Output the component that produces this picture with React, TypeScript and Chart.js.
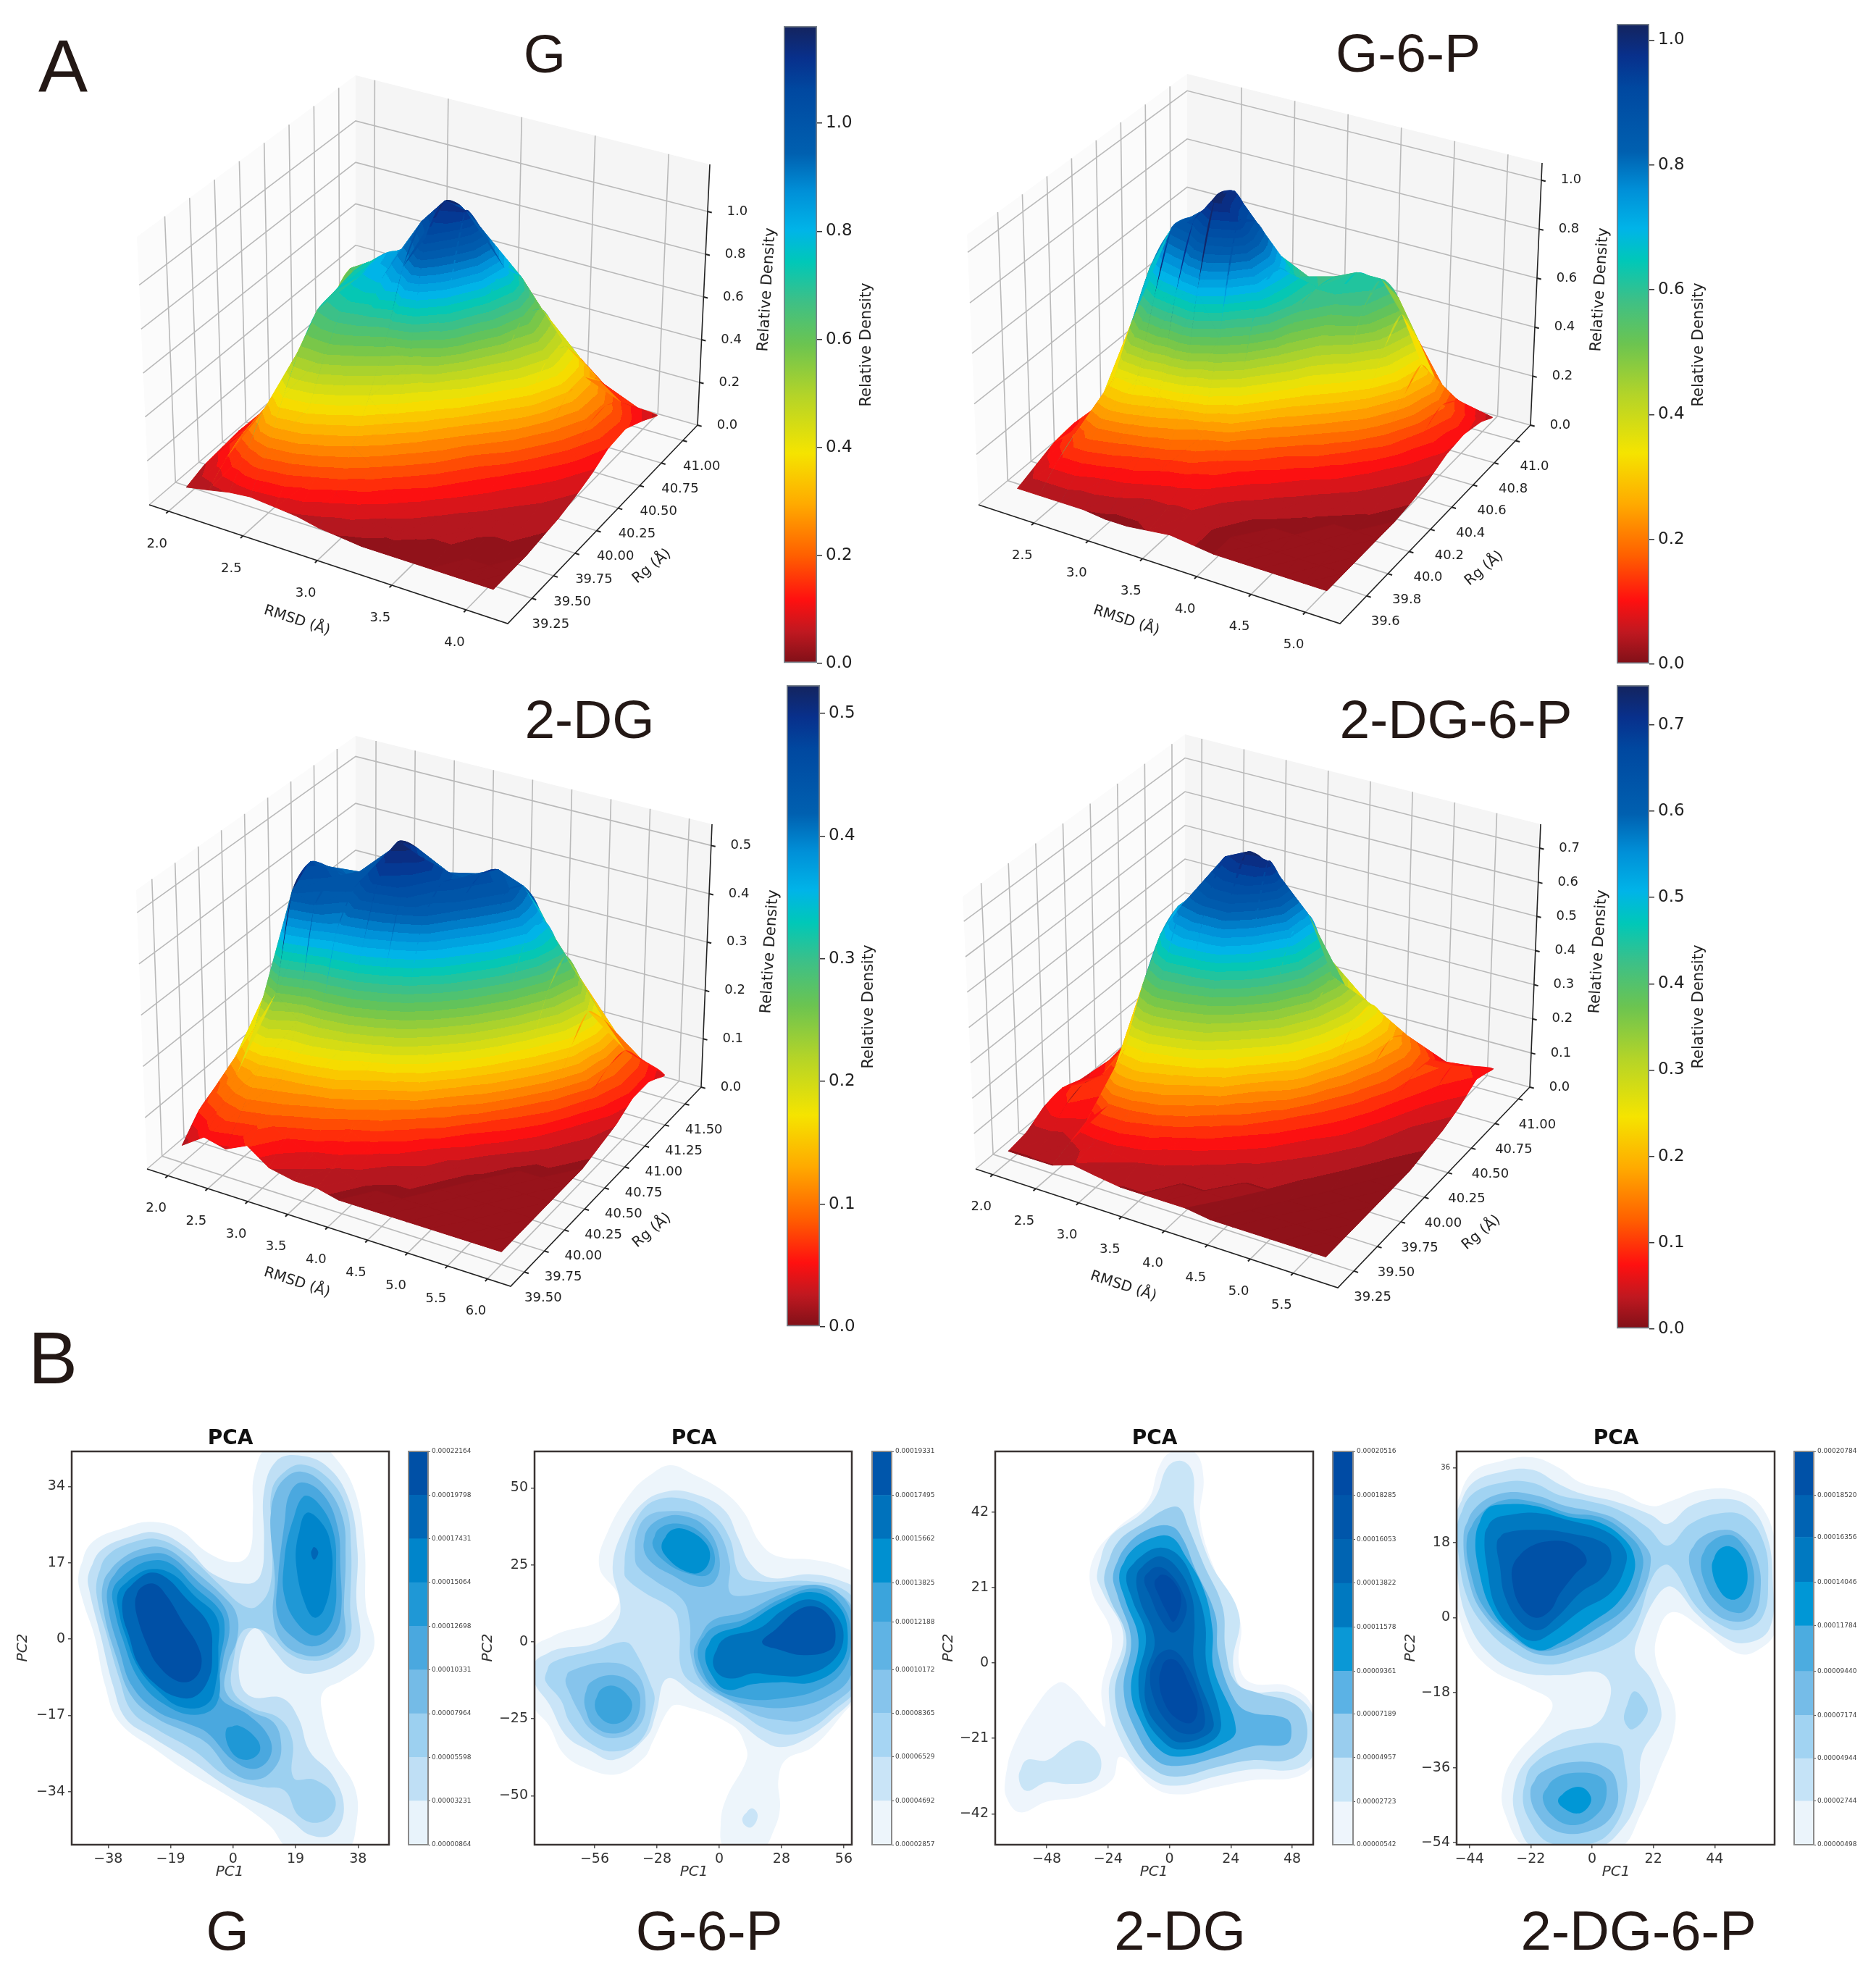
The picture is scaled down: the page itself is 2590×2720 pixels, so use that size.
import React, { useEffect, useRef } from 'react';
import { Chart, registerables } from 'chart.js';
Chart.register(...registerables);

// ---------- 3D surface data: Relative Density over RMSD (rows) and Rg (columns) ----------
const gRmsd = [1.99, 2.14, 2.28, 2.42, 2.59, 2.74, 2.88, 3.03, 3.17, 3.32, 3.46, 3.63, 3.77, 3.92, 4.06];
const gRg = [39.18, 39.37, 39.56, 39.74, 39.93, 40.11, 40.31, 40.49, 40.69, 40.87, 41.06];
const gZ = [
  [.03, .06, .07, .08, .07, .06, .08, .18, .18, .12, .05],
  [.05, .12, .17, .18, .19, .22, .30, .42, .38, .25, .10],
  [.07, .18, .30, .33, .34, .42, .55, .62, .55, .35, .14],
  [.08, .22, .40, .55, .66, .68, .70, .68, .56, .38, .16],
  [.07, .20, .38, .56, .70, .78, .80, .76, .62, .40, .16],
  [.06, .16, .32, .50, .68, .80, .86, .82, .68, .44, .18],
  [.04, .12, .26, .42, .62, .88, 1.02, .94, .74, .48, .19],
  [.03, .09, .19, .32, .52, 1.04, 1.14, 1.05, .80, .52, .20],
  [.02, .06, .13, .24, .40, .74, 1.12, .97, .76, .52, .18],
  [.02, .04, .09, .17, .28, .48, .72, .82, .70, .48, .16],
  [.02, .03, .06, .11, .19, .33, .52, .62, .58, .40, .14],
  [.02, .03, .04, .07, .12, .22, .36, .46, .44, .31, .11],
  [.02, .02, .03, .05, .08, .14, .24, .32, .32, .23, .08],
  [.02, .02, .03, .04, .06, .09, .15, .21, .22, .16, .06],
  [.02, .02, .02, .03, .04, .06, .09, .13, .14, .10, .05],
];
const g6pRmsd = [2.18, 2.38, 2.58, 2.79, 2.99, 3.19, 3.39, 3.59, 3.79, 3.99, 4.22, 4.42, 4.62, 4.82, 5.04];
const g6pRg = [39.51, 39.67, 39.83, 39.99, 40.14, 40.30, 40.46, 40.62, 40.78, 40.94, 41.05];
const g6pZ = [
  [.03, .06, .09, .10, .09, .08, .07, .09, .12, .10, .05],
  [.03, .10, .15, .15, .18, .26, .36, .42, .42, .28, .10],
  [.03, .10, .20, .34, .50, .66, .74, .72, .60, .38, .15],
  [.03, .08, .18, .36, .62, .85, .83, .75, .62, .42, .18],
  [.02, .07, .15, .32, .66, .90, .90, .78, .62, .45, .20],
  [.02, .05, .12, .27, .70, 1.02, .98, .79, .60, .46, .20],
  [.03, .05, .10, .21, .54, .94, .88, .70, .54, .44, .20],
  [.04, .05, .08, .15, .38, .68, .72, .62, .54, .46, .18],
  [.03, .03, .05, .10, .22, .45, .58, .60, .58, .50, .18],
  [.02, .02, .03, .07, .14, .30, .46, .60, .62, .52, .18],
  [.02, .02, .02, .04, .09, .20, .36, .56, .62, .48, .16],
  [.02, .02, .02, .03, .06, .13, .26, .42, .50, .33, .12],
  [.02, .02, .02, .02, .04, .08, .16, .26, .32, .17, .07],
  [.02, .02, .02, .02, .03, .05, .09, .14, .18, .13, .05],
  [.02, .02, .02, .02, .02, .03, .05, .08, .09, .07, .04],
];
const dgRmsd = [1.92, 2.20, 2.47, 2.74, 3.01, 3.33, 3.61, 3.88, 4.15, 4.47, 4.74, 5.02, 5.33, 5.61, 5.93];
const dgRg = [39.57, 39.77, 39.97, 40.17, 40.37, 40.57, 40.78, 40.98, 41.18, 41.38, 41.58];
const dgZ = [
  [.02, .06, .08, .10, .12, .10, .08, .08, .09, .08, .04],
  [.05, .08, .12, .18, .25, .28, .25, .24, .22, .16, .07],
  [.04, .09, .14, .26, .44, .47, .43, .38, .34, .24, .10],
  [.06, .08, .13, .22, .42, .45, .42, .40, .40, .32, .12],
  [.03, .06, .12, .22, .38, .44, .45, .46, .44, .34, .13],
  [.02, .04, .10, .20, .36, .48, .52, .48, .39, .34, .14],
  [.02, .03, .07, .16, .32, .46, .50, .44, .40, .35, .15],
  [.01, .02, .05, .12, .27, .42, .46, .44, .42, .37, .15],
  [.01, .01, .03, .08, .20, .34, .44, .46, .44, .37, .15],
  [.01, .01, .02, .04, .11, .24, .36, .44, .42, .34, .14],
  [.01, .01, .01, .02, .06, .15, .27, .36, .36, .27, .12],
  [.01, .01, .01, .01, .03, .08, .17, .26, .30, .22, .10],
  [.01, .01, .01, .01, .01, .04, .09, .16, .20, .15, .08],
  [.01, .01, .01, .01, .01, .02, .04, .08, .10, .10, .05],
  [.01, .01, .01, .01, .01, .01, .02, .03, .05, .05, .03],
];
const dg6pRmsd = [1.97, 2.22, 2.48, 2.73, 2.98, 3.28, 3.53, 3.78, 4.04, 4.33, 4.59, 4.84, 5.13, 5.39, 5.68];
const dg6pRg = [39.26, 39.44, 39.61, 39.79, 39.97, 40.14, 40.31, 40.49, 40.67, 40.84, 41.02];
const dg6pZ = [
  [.02, .03, .06, .07, .05, .03, .02, .02, .02, .02, .01],
  [.02, .03, .08, .10, .08, .10, .12, .14, .12, .08, .03],
  [.02, .04, .06, .08, .10, .18, .26, .30, .22, .13, .04],
  [.04, .05, .12, .24, .38, .48, .52, .50, .36, .20, .06],
  [.03, .05, .12, .26, .44, .58, .58, .56, .42, .24, .08],
  [.02, .04, .10, .22, .42, .62, .70, .62, .46, .26, .09],
  [.02, .03, .07, .17, .38, .62, .73, .66, .46, .26, .09],
  [.02, .02, .05, .12, .28, .50, .72, .60, .48, .30, .09],
  [.02, .02, .03, .08, .17, .36, .52, .54, .38, .22, .09],
  [.01, .02, .02, .05, .10, .22, .33, .38, .28, .22, .09],
  [.01, .01, .02, .03, .06, .11, .19, .26, .27, .18, .08],
  [.01, .01, .01, .02, .04, .07, .11, .16, .19, .15, .05],
  [.01, .01, .01, .01, .02, .04, .06, .09, .11, .10, .04],
  [.01, .01, .01, .01, .01, .02, .03, .05, .08, .10, .05],
  [.01, .01, .01, .01, .01, .01, .02, .03, .05, .08, .06],
];

const gRmsdTicks = [2, 2.5, 3, 3.5, 4];
const gRgTicks = [39.25, 39.5, 39.75, 40, 40.25, 40.5, 40.75, 41];
const gZTicks = [0, .2, .4, .6, .8, 1];
const g6pRmsdTicks = [2.5, 3, 3.5, 4, 4.5, 5];
const g6pRgTicks = [39.6, 39.8, 40, 40.2, 40.4, 40.6, 40.8, 41];
const g6pZTicks = [0, .2, .4, .6, .8, 1];
const dgRmsdTicks = [2, 2.5, 3, 3.5, 4, 4.5, 5, 5.5, 6];
const dgRgTicks = [39.5, 39.75, 40, 40.25, 40.5, 40.75, 41, 41.25, 41.5];
const dgZTicks = [0, .1, .2, .3, .4, .5];
const dg6pRmsdTicks = [2, 2.5, 3, 3.5, 4, 4.5, 5, 5.5];
const dg6pRgTicks = [39.25, 39.5, 39.75, 40, 40.25, 40.5, 40.75, 41];
const dg6pZTicks = [0, .1, .2, .3, .4, .5, .6, .7];

// surface colormap stops [fraction, colour]
const cmap: [number, string][] = [
  [0, '#7f1018'], [.05, '#c01820'], [.10, '#ff1010'], [.17, '#ff6000'], [.25, '#ffaa00'], [.33, '#f5e400'],
  [.42, '#b4d428'], [.5, '#6cc450'], [.57, '#3cc088'], [.63, '#00c8b8'], [.68, '#00b4e8'], [.74, '#0090d8'],
  [.8, '#0060b0'], [.9, '#0048a0'], [.95, '#08308c'], [1, '#14245e'],
];
const SURFACE_BANDS = 36;

// ---------- PCA contour levels: vertices in (PC1, PC2), listed as x,y,x,y ----------
const gC1 = [-47,14.4,-43.2,21.3,-32.7,24.9,-25,26.1,-16.4,24.5,-7.8,19.3,.8,17.1,5,19.3,6,28,6.5,37,11.3,43.3,24.6,43.7,30.4,41,37,33,40,20,40.4,7.2,43,-.8,40,-5.6,33.2,-9.2,27.5,-11.6,27,-16,30.4,-24.9,37,-33,37.5,-41,34.2,-47,17,-46.5,11.3,-41.7,.8,-36,-13.6,-29.7,-23,-24.9,-34.6,-18.5,-38.9,-10.4,-42.2,.8,-45.8,8.8];
const gC2 = [-44,14.4,-40.3,19.7,-30.8,22.9,-23.1,23.7,-14.5,20.5,-5.9,14.4,4.6,12.3,8.4,14.4,9.4,21.7,9.4,32.9,13.2,39.7,19.9,40.9,28.5,38.5,35.1,31.3,37.8,20,37.5,8.8,38.5,-.8,34.2,-4.8,24.6,-7.6,18,-6.8,12.2,-2.4,7,2.4,3.2,-.8,1.9,-8.8,5.5,-12.8,15.1,-13.2,19.9,-17.7,23.2,-24.9,30.4,-30.5,33.7,-37.7,30.4,-43.3,23.7,-43.7,17,-40.1,10.3,-37.3,.8,-34.1,-13.6,-26.9,-25,-21.7,-32.7,-17.7,-36.5,-10.4,-40.3,.8,-43.6,10.4];
const gC3 = [-41.3,13.6,-38.4,18.5,-29.8,21.7,-22.2,22.1,-13.6,18.5,-4,12,2.7,7.6,7,7.2,11.3,12,11.7,24.1,11.7,32.9,15.1,36.9,20.8,38.9,28.5,36.1,34.2,29.7,35.9,20,35.6,7.2,35.6,.8,30.4,-3.6,23.7,-4.8,17,-3.2,11.3,.8,7,2.4,2.7,1.6,.3,-4,-.2,-11.2,5.5,-15.2,14.1,-17.7,18,-22.5,18.4,-30.9,24.6,-31.3,30.4,-34.5,30.6,-38.5,25.6,-40.9,19.9,-39.3,15.6,-33.7,8.4,-32.9,-2.1,-30.5,-11.7,-24.9,-23.1,-20.1,-30.8,-16.1,-34.6,-8.8,-38.4,.8,-41.3,8.8];
const gC4a = [-39.4,12.8,-35.5,16.9,-27.9,20.1,-20.2,20.1,-11.7,15.2,-3.1,9.6,1,5.6,1.2,0,-1.6,-5.6,-2.1,-12,5.5,-16.1,12.2,-18.5,14.6,-23.3,13.2,-28.1,7.4,-31.3,-.2,-29.7,-7.8,-23.3,-13.6,-20.9,-23.1,-17.7,-30.8,-12.8,-35.5,-4,-39.4,6.4];
const gC4b = [11.3,25.7,12.2,31.3,15.6,35.7,20.8,37.3,27.5,34.5,33.2,27.3,34.2,18.5,33.7,7.2,33.7,0,28.5,-3.2,21.8,-3.6,15.1,-.8,12.2,4.8,12.7,13.6];
const gC5a = [-37.9,12,-33.6,16.5,-26,18.9,-19.3,18.5,-10.7,12.8,-3.1,7.6,-1.1,2.4,-3.1,-4.8,-4,-12.8,4.6,-16.9,10.8,-21.7,11.3,-26.1,6.5,-28.9,-.2,-26.9,-7.8,-20.9,-13.6,-18.9,-23.1,-16.1,-30.8,-10.4,-34.6,-2.4,-37.9,6.4];
const gC5b = [15.6,25.7,17,32.1,20.8,34.9,27.5,32.1,31.8,24.9,32.6,16.1,32.8,5.6,30.4,.8,24.6,-1.6,18.9,0,13.7,4.8,13.7,13.6];
const gC6a = [-36.5,11.2,-32.2,14.8,-26,17.3,-19.3,16.9,-11.7,11.6,-4,6.4,-2.6,2,-4,-4.8,-5,-14.4,-11.7,-16.9,-21.2,-14.4,-28.8,-8.8,-33.6,0,-36,6.4];
const gC6b = [-2.1,-20.1,1.7,-19.3,7.4,-22.5,7.9,-25.3,3.6,-26.9,-.7,-24.9];
const gC6c = [17.5,24.9,21.3,31.7,25.6,30.5,30.4,24.1,31.3,15.2,30.4,4.8,25.6,.8,19.9,3.2,15.6,9.6,15.6,17.7];
const gC7a = [-35,10.4,-30.8,13.6,-25,15.6,-18.3,14.4,-11.7,9.6,-5,4.8,-4.5,-2.4,-5,-8.8,-7.8,-14.4,-15.5,-15.2,-22.2,-12,-28.8,-6.4,-32.7,.8,-34.6,5.6];
const gC7b = [19.4,21.7,22.3,28.1,27.5,25.3,29.9,20,29.9,13.6,27.5,6.4,24.6,4.8,21.8,8,19.4,15.2];
const gC8a = [-33.1,10,-29.8,12.8,-25,14.8,-20.2,13.6,-14.5,9.2,-7.4,3.2,-6.4,-3.2,-7.4,-8.8,-11.7,-12.8,-17.4,-12.8,-23.1,-10.4,-28.8,-5.6,-31.7,.8,-33.6,5.6];
const gC8b = [23.7,19.3,24.6,20.5,25.9,19.3,24.6,17.7];
const gC9 = [-29.8,8.4,-28.4,11.2,-24.1,12.3,-20.2,9.6,-15.5,4,-10.7,-1.6,-9.7,-6,-12.6,-9.2,-17.4,-9.2,-23.1,-5.6,-26,-1.6,-28.8,4];
const gContours: [number, number[]][] = [[0,gC1],[1,gC2],[2,gC3],[3,gC4a],[3,gC4b],[4,gC5a],[4,gC5b],[5,gC6a],[5,gC6b],[5,gC6c],[6,gC7a],[6,gC7b],[7,gC8a],[7,gC8b],[8,gC9]];

const pC1 = [-83.8,-2.6,-72.5,2.7,-55.2,6.2,-47.2,10.3,-45.2,15,-53.9,24.4,-49.9,36.1,-39.2,48.9,-29.9,54.8,-21.9,57.4,-12.6,54.8,2,48.9,11.3,41.9,18,32.6,25.9,27.9,41.9,26.7,55.2,24.4,61.8,20.8,61.8,-16.6,55.2,-23.7,41.9,-34.2,29.9,-38.3,26.6,-44.7,27.3,-54.1,24.6,-61.1,19.3,-67,2.7,-67,.7,-58.8,3.3,-50.6,12,-38.9,12,-34.2,6,-27.2,-16.6,-20.7,-21.9,-21.3,-29.9,-32.4,-33.9,-37.7,-45.9,-43,-59.2,-41.2,-69.8,-36.5,-76.5,-27.2,-83.8,-20.1];
const pC2a = [-83.1,-6.7,-73.8,-2.6,-55.2,-.2,-45.9,6.8,-44.5,12.6,-47.9,24.4,-43.2,36.1,-33.9,45.4,-23.3,48.9,-12.6,48.4,2,43.1,8.6,33.7,14,25.5,23.3,20.8,40.6,22,55.2,19.7,61.8,16.2,61.8,-15.5,51.2,-24.8,37.9,-31.9,27.3,-34.2,19.3,-31.9,8.6,-26,-10,-17.8,-23.3,-11.9,-28.6,-23.7,-32.6,-30.7,-47.2,-38.3,-57.8,-35.4,-68.5,-30.7,-76.5,-20.1,-83.1,-13.1];
const pC2b = [10.6,-57,14.6,-54.1,17.3,-56.4,14.6,-60.2,11.3,-59.4];
const pC3a = [-78.1,-10.8,-75.1,-6.7,-55.2,-2.6,-43.2,0,-39.2,-1.4,-29.9,-15.5,-29.3,-20.1,-35.2,-31.9,-47.2,-35.6,-57.8,-33,-67.2,-26,-71.1,-19,-77.8,-13.1];
const pC3b = [-42.6,23.2,-41.9,30.2,-36.6,40.7,-28.6,46,-15.3,46.4,-3.3,41.9,4.7,33.7,9.3,22,18,19.7,40.6,19.7,55.2,17.3,61.8,11.5,61.8,-14.3,51.2,-22.5,40.6,-28.3,29.9,-30.1,19.3,-27.8,8.6,-22.5,-7.3,-15.5,-16.6,-9.6,-18,4.4,-20.6,10.3,-33.9,16.2,-41.9,20.8];
const pC4a = [-69.1,-12.5,-67.2,-9.6,-49.9,-6.7,-37.9,-9.6,-33.2,-17.8,-35.9,-27.2,-47.2,-31.3,-57.8,-28.3,-63.2,-22.5,-67.2,-16.6];
const pC4b = [-37.9,27.9,-37.2,34.9,-32.6,40.7,-23.3,42.5,-10,41.3,-.7,36.1,4.7,25.5,4.7,16.2,11.3,15,37.9,18.5,55.2,15,61.8,6.8,61.8,-11.9,51.2,-20.1,37.9,-25.4,27.3,-25.4,16.6,-23.7,4.7,-19,-7.3,-13.7,-12.6,-4.9,-13.3,6.8,-16.6,13.8,-28.6,19.7,-36.6,24.4];
const pC5a = [-60.5,-17.8,-57.8,-13.1,-47.2,-10.8,-37.9,-14.3,-35.5,-20.1,-39.2,-27.2,-47.9,-29.8,-56.5,-27.2,-59.8,-22.5];
const pC5b = [-33.9,30.2,-32.6,36.1,-25.9,40.2,-16.6,41,-6,37.2,0,27.9,-2,19.7,-10,18,-21.9,22,-29.9,25.5];
const pC5c = [-10,-.2,-3.3,6.8,11.3,9.7,29.9,16.2,44.5,18.5,56.5,13.8,60.5,4.4,59.2,-10.8,48.6,-17.8,31.3,-21.3,15.3,-20.7,2,-17.8,-7.3,-11.9,-11.3,-4.9];
const pC6a = [-55.9,-20.1,-53.2,-15.5,-47.2,-14.3,-40.6,-17.8,-39.2,-21.3,-42.6,-25.4,-48.6,-26.6,-53.9,-24.2];
const pC6b = [-29.9,31.4,-27.3,36.6,-18,38.4,-7.3,34.9,-2,27.9,-4.7,22,-12.6,22,-23.3,25.5];
const pC6c = [-9.3,-1.4,-3.3,4.4,11.3,7.3,27.3,13.8,44.5,17.3,55.7,11.5,59.2,2.1,56.5,-8.4,44.5,-15.5,27.3,-18.4,11.3,-18.4,-2,-14.9,-8,-8.4];
const pC7a = [-25.9,31.4,-21.9,36.1,-15.3,36.6,-6,32,-4.3,26.7,-8.6,22.6,-15.3,23,-23.3,27.3];
const pC7b = [-6.3,-3.7,-2,2.1,11.3,5.6,27.3,12.6,41.9,16.2,53.9,11.5,57.8,2.1,54.5,-7.3,41.9,-13.1,27.3,-13.1,15.3,-13.7,3.3,-15.5,-3.3,-10.8];
const pC8 = [-2.7,-5.5,2,.9,18,4.4,28.6,10.3,40.6,13.8,51.2,9.7,55.9,2.1,51.2,-6.1,37.9,-10.8,24.6,-10.8,15.3,-10.2,6,-11.9,-.7,-10.2];
const pC9 = [19.3,-.2,25.9,4.4,35.2,10.3,43.2,11.5,49.9,8,52.3,2.1,49.9,-2.6,37.9,-4.3,27.3,-2.6];
const pContours: [number, number[]][] = [[0,pC1],[1,pC2a],[1,pC2b],[2,pC3a],[2,pC3b],[3,pC4a],[3,pC4b],[4,pC5a],[4,pC5b],[4,pC5c],[5,pC6a],[5,pC6b],[5,pC6c],[6,pC7a],[6,pC7b],[7,pC8],[8,pC9]];

const dC1 = [-64.2,-32.6,-61.8,-24.6,-52.6,-12.5,-43.4,-5.5,-37.6,-7.5,-29.5,-14.5,-25.1,-17.6,-26.6,-7.5,-22.5,7.5,-30.6,20.6,-29.5,29.6,-20.2,37.6,-8.7,44.6,-4,54.7,.6,58.7,9.8,58.7,13.3,51.7,12.1,39.6,19.1,23.6,27.7,11.5,27.2,-.5,31.8,-5.5,46.8,-6.5,56.1,-12.5,57.2,-26.6,50.3,-31.6,32.9,-32.6,17.9,-34.6,4,-36.6,-6.4,-34.6,-19.1,-26.1,-22.5,-32.6,-34.1,-37.1,-48,-38.6,-58.4,-41.6,-63.6,-37.6];
const dC2a = [-58.9,-31.6,-56,-27.1,-47.9,-27.1,-41,-23.6,-35.3,-21.6,-29.5,-23.6,-26.6,-28.1,-29.5,-32.6,-39.9,-33.7,-48,-33.2,-56,-35.6];
const dC2b = [-28.3,24.6,-23.7,34.6,-11,41.6,-5.2,46.6,-.6,54.7,5.2,56.2,9.2,52.7,9.8,42.6,15.6,28.6,27.2,13.5,24.9,-.5,29.5,-7.5,46.8,-8.5,56.1,-14.5,56.1,-25.6,49.1,-29.6,32.9,-29.6,17.9,-31.6,4,-34.1,-6.4,-32.6,-16.8,-24.6,-23.7,-8.5,-18,7.5,-26,19.6];
const dC3 = [-25.4,24.6,-20.2,33.6,-8.7,39.6,-.6,43.1,4,43.1,7.5,37.6,13.3,27.6,20.8,15.5,22,3.5,26,-5.5,35.3,-8.5,48,-11,53.2,-15.5,52.6,-23.6,45.7,-27.1,31.8,-27.1,17.9,-29.1,4,-31.6,-5.2,-30.1,-15.6,-21.6,-21.3,-8.5,-16.8,6.5,-23.7,18.6];
const dC4 = [-22,24.6,-17.9,31.6,-8.7,37.1,.6,38.1,5.2,34.6,9.8,26.6,17.9,13.5,19.1,2.5,24.9,-9.5,30.6,-13.5,45.7,-15.5,47.7,-19,45.7,-22.6,33,-23.1,19.1,-26.1,4,-28.6,-5.2,-27.1,-13.3,-18.6,-17.9,-7.5,-15,6.5,-20.2,18.6];
const dC5 = [-19.6,24.6,-15.6,30.6,-7.5,34.6,.6,35.1,6.4,29.6,13.3,20.6,16.8,9.5,17.3,-1.5,26,-18.6,19.1,-23.1,4,-26.1,-4,-24.1,-11,-16.6,-15,-7.5,-12.1,6.5,-17.3,17.6];
const dC6 = [-16.8,24.6,-12.1,29.1,-4,32.1,4,29.6,9.8,21.6,13.9,11.5,14.5,-.5,20.2,-16.6,16.8,-21.6,4,-24.1,-2.9,-21.6,-9.8,-14.5,-12.1,-4.5,-9.2,7.5,-14.5,17.6];
const dC7 = [-12.7,24.6,-8.7,28.1,-2.9,29.6,4,25.6,8.7,18.6,9.8,11.5,9.8,-.5,17.3,-16.6,14.5,-20.1,4,-22.1,-1.7,-19.6,-8.7,-12.5,-9.2,-3.5,-5.8,6.5,-11.6,17.6];
const dC8a = [-9.8,23.6,-5.8,26.6,-.6,25.6,5.8,18.6,6.4,13.5,1.7,8.5,-2.9,11.5,-7.5,18.6];
const dC8b = [-7.5,-2.5,-4,2.5,1.7,3.5,7.5,-1.5,11,-7.5,13.9,-15.5,12.1,-19,5.2,-19.6,-.6,-16.6,-5.8,-10.5];
const dC9a = [-5.8,22.6,-2.9,24.6,1.7,22.6,4.6,17.6,1.7,11.5,-1.2,14.5,-4,18.6];
const dC9b = [-4,-4.5,-1.7,.5,2.9,.5,7.5,-5.5,11,-12.5,8.7,-16.6,2.9,-15.5,-1.7,-11.5];
const dContours: [number, number[]][] = [[0,dC1],[1,dC2a],[1,dC2b],[2,dC3],[3,dC4],[4,dC5],[5,dC6],[6,dC7],[7,dC8a],[7,dC8b],[8,dC9a],[8,dC9b]];

const qC1 = [-49.4,25.1,-43.4,34.6,-32.5,37.6,-21.5,38.5,-11.7,35.9,-4,32.4,9.1,30.3,21.1,26.8,28.7,28.1,39.7,30.7,52.8,30.3,61.5,26,65.9,16.4,65.9,-2.6,61.5,-6.9,52.8,-8.7,39.7,-2.6,28.7,1.3,23.3,-4.3,23.3,-11.2,29.3,-19.9,29.3,-27.7,24.4,-36.3,17.8,-46.7,9.1,-55.4,-22.6,-55.4,-31.4,-46.7,-31.9,-39.8,-28.1,-33.7,-17.2,-25.1,-14.4,-20.3,-22.6,-16.9,-36.8,-12.1,-45.6,-4.3,-49.4,9.5];
const qC2 = [-48.9,24.2,-43.4,32,-32.5,35,-21.5,35.5,-11.7,32,-4,29.8,9.1,27.7,21.1,24.7,27.1,22.5,35.3,26.8,46.2,28.5,56.1,26.8,62.6,19.9,64.8,9.5,63.7,-2.6,55,-6.1,46.2,-4.3,37.5,.9,28.7,7.4,23.3,5.2,16.7,-4.3,15.6,-9.5,21.1,-14.7,24.4,-20.8,24.4,-25.1,17.8,-32.9,16.7,-42.4,11.3,-50.2,1.4,-55.4,-20.4,-55.4,-27,-48.4,-28.1,-41.5,-23.7,-34.6,-10.6,-27.7,1.4,-25.5,5.8,-20.8,6.3,-15.6,1.4,-13,-10.6,-13.8,-25.9,-13,-36.8,-8.7,-44.5,-.9,-48.3,10.4];
const qC3a = [-48.3,22.5,-43.4,29.4,-32.5,32.4,-21.5,32.4,-11.7,29.4,-1.9,28.1,9.1,26,20,21.6,27.1,17.3,35.3,22.5,46.2,25.1,55,24.2,61.5,18.2,63.2,9.5,61,0,52.8,-3,45.1,-1.3,37.5,2.6,27.7,12.5,22.2,10.4,15.6,-1.7,9.1,-6.1,-4,-9.5,-17.2,-11.2,-29.2,-7.8,-39,-1.7,-45,5.2,-47.8,14.7];
const qC3b = [11.8,-22.5,15.1,-17.7,19.5,-20.8,19.5,-23.4,14.5,-26.8,11.8,-25.1];
const qC3c = [-24.8,-42.4,-21.5,-35.5,-8.4,-31.1,9.1,-30.7,11.8,-35.5,12.3,-42.4,8,-50.2,.3,-54.1,-15,-54.1,-22.6,-48.4];
const qC4a = [-46.1,19.9,-42.3,26,-32.5,29.8,-20.4,29.4,-9.5,26.8,.3,25.5,9.1,23.4,17.8,18.2,21.1,13.8,16.7,4.3,9.1,-1.7,-4,-6.9,-17.2,-9.1,-29.2,-5.2,-37.9,0,-43.4,6.9];
const qC4b = [34.8,14.7,38.6,19,47.3,21.1,53.9,19.4,59.3,13.8,60.4,6.1,57.7,.4,50.6,-.9,43,1.7,37.5,7.8];
const qC4c = [-22.1,-41.5,-18.3,-37.2,-5.1,-34.6,5.8,-36.3,9.1,-40.7,8,-46.7,.3,-51,-11.7,-51.5,-19.3,-47.6];
const qC5a = [-44.9,19,-41.1,24.2,-32.5,28.1,-20.4,27.7,-8.4,25.1,2.5,24.2,11.3,20.8,17.8,15.6,17.3,9.5,12.3,2.6,1.4,-2.6,-10.6,-6.9,-20.4,-7.8,-30.3,-3.5,-39,2.6,-43.4,10.4];
const qC5b = [39.1,13.8,41.9,17.7,49,19.9,53.9,17.7,57.7,12.1,57.7,6.1,55,1.7,50.6,1.3,45.1,3.5,40.8,7.8];
const qC5c = [-17.7,-43.3,-13.9,-38.9,-5.1,-37.2,3.6,-38.5,5.2,-42.4,2.5,-46.7,-5.1,-49.7,-12.8,-48.4];
const qC6a = [-41.7,19.9,-37.9,26,-31.3,27.2,-20.4,26.8,-8.4,24.2,2.5,22.9,11.3,19,15.1,14.7,14.5,9.5,9.1,3.5,.3,-.9,-11.7,-6.1,-19.3,-7.8,-28.1,-4.3,-35.8,1.7,-40.3,10.4];
const qC6b = [43,12.1,45.1,16,49.5,17.1,53.9,14.7,55.8,10.4,54.4,6.1,50.6,4.3,46.2,6.1];
const qC6c = [-12.2,-43.8,-9,-41.5,-4,-40.7,-.5,-42.9,-1.3,-45.4,-5.1,-47,-10,-45.8];
const qC7 = [-38.5,19.9,-35.8,23.4,-29.2,24.7,-19.3,25.1,-8.4,23.4,4.7,20.8,11.8,16.4,11.8,12.1,6.9,6.1,-4,1.7,-15,-3.9,-21.5,-5.6,-28.1,-3,-34.6,2.6,-37.3,10.4];
const qC8 = [-34.1,18.2,-31.3,20.3,-19.3,21.1,-8.4,20.3,4.7,17.7,6.9,13.8,3.6,9.5,-4,6.1,-12.8,0,-19.3,-3,-25.9,-.9,-31.3,5.2,-33,12.1];
const qC9 = [-28.1,13,-23.7,16.4,-16.1,18.3,-7.3,17.7,-1.9,13.8,-6.2,10.4,-11.7,5.6,-15,1.7,-20.4,0,-25.9,3,-28.6,8.7];
const qContours: [number, number[]][] = [[0,qC1],[1,qC2],[2,qC3a],[2,qC3b],[2,qC3c],[3,qC4a],[3,qC4b],[3,qC4c],[4,qC5a],[4,qC5b],[4,qC5c],[5,qC6a],[5,qC6b],[5,qC6c],[6,qC7],[7,qC8],[8,qC9]];

const gBands = ['#e8f3fb','#bfdff5','#9cd0f0','#74bbe7','#4aa8df','#1f98d6','#0085cb','#0066b6','#0050a6'];
const pBands = ['#edf5fb','#c9e4f7','#a6d5f3','#86c4ec','#5fb3e4','#3ba4dc','#0090d0','#0072bc','#0056ab'];
const dBands = ['#eef5fc','#c9e5f7','#99cdee','#5bb2e5','#0a98d6','#0079c0','#0064b2','#0056aa','#004ba4'];
const qBands = ['#ebf4fb','#c5e3f7','#a1d3f2','#75bce8','#4cace0','#0097d6','#0079c1','#0063b3','#0051a7'];

// colourbar level labels (barely legible in the source, estimated)
const gLevels = [.00000864,.00003231,.00005598,.00007964,.00010331,.00012698,.00015064,.00017431,.00019798,.00022164];
const pLevels = [.00002857,.00004692,.00006529,.00008365,.00010172,.00012188,.00013825,.00015662,.00017495,.00019331];
const dLevels = [.00000542,.00002723,.00004957,.00007189,.00009361,.00011578,.00013822,.00016053,.00018285,.00020516];
const qLevels = [.00000498,.00002744,.00004944,.00007174,.00009440,.00011784,.00014046,.00016356,.00018520,.00020784];

const gPcaX = [-38, -19, 0, 19, 38]; const gPcaY = [34, 17, 0, -17, -34];
const pPcaX = [-56, -28, 0, 28, 56]; const pPcaY = [50, 25, 0, -25, -50];
const dPcaX = [-48, -24, 0, 24, 48]; const dPcaY = [42, 21, 0, -21, -42];
const qPcaX = [-44, -22, 0, 22, 44]; const qPcaY = [36, 18, 0, -18, -36, -54];

// ---------- layout / style ----------
const FONT = "'DejaVu Sans'";
const TITLE_FONT = "'Liberation Sans'";
const INK = '#231815';
const CB_M = 24;
type Txt = { t: string; x: number; y: number; f: string; r?: number; c?: string };

const panels3D = [
  { box: [0, 0, 1300, 925], L: [206, 697], F: [701, 861], R: [963, 587], B: [491, 453], hL: [-17, -370], hF: [8, -395], hR: [17, -360], hB: [0, -349],
    rx: [1.87, 4.28], ry: [38.97, 41.17], zTop: 1.22, zMax: 1.18, rmsd: gRmsd, rg: gRg, z: gZ, tx: gRmsdTicks, ty: gRgTicks, tz: gZTicks, dy: 2,
    rmsdLab: [410, 857], rgLab: [900, 782], zLab: [1059, 400], cbLab: [1197, 476], cb: [1082, 36, 46, 880], cbTicks: [0, .2, .4, .6, .8, 1] },
  { box: [1300, 0, 1290, 925], L: [1351, 697], F: [1850, 861], R: [2113, 587], B: [1639, 458], hL: [-16, -373], hF: [8, -395], hR: [16, -362], hB: [0, -356],
    rx: [1.99, 5.32], ry: [39.35, 41.14], zTop: 1.07, zMax: 1.026, rmsd: g6pRmsd, rg: g6pRg, z: g6pZ, tx: g6pRmsdTicks, ty: g6pRgTicks, tz: g6pZTicks, dy: 1,
    rmsdLab: [1555, 857], rgLab: [2049, 785], zLab: [2209, 400], cbLab: [2346, 476], cb: [2232, 33, 45, 884], cbTicks: [0, .2, .4, .6, .8, 1] },
  { box: [0, 925, 1300, 930], L: [203, 1614], F: [705, 1776], R: [968, 1501], B: [491, 1368], hL: [-15, -385], hF: [8, -395], hR: [15, -363], hB: [0, -352],
    rx: [1.74, 6.29], ry: [39.33, 41.70], zTop: .544, zMax: .523, rmsd: dgRmsd, rg: dgRg, z: dgZ, tx: dgRmsdTicks, ty: dgRgTicks, tz: dgZTicks, dy: 2,
    rmsdLab: [410, 1771], rgLab: [900, 1699], zLab: [1063, 1314], cbLab: [1200, 1390], cb: [1086, 946, 46, 886], cbTicks: [0, .1, .2, .3, .4, .5] },
  { box: [1300, 925, 1290, 930], L: [1347, 1614], F: [1847, 1778], R: [2112, 1501], B: [1636, 1372], hL: [-18, -376], hF: [8, -395], hR: [15, -363], hB: [0, -358],
    rx: [1.8, 6.02], ry: [39.08, 41.12], zTop: .77, zMax: .746, rmsd: dg6pRmsd, rg: dg6pRg, z: dg6pZ, tx: dg6pRmsdTicks, ty: dg6pRgTicks, tz: dg6pZTicks, dy: 2,
    rmsdLab: [1551, 1776], rgLab: [2045, 1702], zLab: [2207, 1314], cbLab: [2346, 1390], cb: [2232, 946, 45, 889], cbTicks: [0, .1, .2, .3, .4, .5, .6, .7] },
];

const panelsPCA = [
  { ax: [99, 537], xr: [-49.1, 47.4], yr: [-45.8, 41.8], tx: gPcaX, ty: gPcaY, contours: gContours, bands: gBands, levels: gLevels, cb: [564, 27], pc1: 317, pc2: 32, title: 318 },
  { ax: [738, 1176], xr: [-83, 59.6], yr: [-65.9, 61.9], tx: pPcaX, ty: pPcaY, contours: pContours, bands: pBands, levels: pLevels, cb: [1204, 27], pc1: 958, pc2: 674, title: 958 },
  { ax: [1374, 1813], xr: [-68.1, 56.2], yr: [-50.6, 58.9], tx: dPcaX, ty: dPcaY, contours: dContours, bands: dBands, levels: dLevels, cb: [1840, 28], pc1: 1593, pc2: 1310, title: 1594 },
  { ax: [2011, 2450], xr: [-48.6, 65.5], yr: [-54.5, 39.9], tx: qPcaX, ty: qPcaY, contours: qContours, bands: qBands, levels: qLevels, cb: [2477, 27], pc1: 2231, pc2: 1948, title: 2231 },
];
const PCA_TOP = 2004, PCA_H = 543;

const pageTexts = [
  { t: 'A', x: 87, y: 92, s: 102 }, { t: 'B', x: 73, y: 1875, s: 102 },
  { t: 'G', x: 752, y: 74, s: 75 }, { t: 'G-6-P', x: 1944, y: 73, s: 75 },
  { t: '2-DG', x: 814, y: 993, s: 75 }, { t: '2-DG-6-P', x: 2010, y: 993, s: 75 },
  { t: 'G', x: 314, y: 2666, s: 76 }, { t: 'G-6-P', x: 979, y: 2666, s: 76 },
  { t: '2-DG', x: 1629, y: 2666, s: 76 }, { t: '2-DG-6-P', x: 2262, y: 2666, s: 76 },
];

// ---------- helpers ----------
const sampleCmap = (f: number) => {
  let i = 0;
  while (i < cmap.length - 2 && f > cmap[i + 1][0]) i++;
  const [f0, c0] = cmap[i], [f1, c1] = cmap[i + 1];
  const k = Math.max(0, Math.min(1, (f - f0) / (f1 - f0)));
  const ch = (s: string, n: number) => parseInt(s.slice(1 + 2 * n, 3 + 2 * n), 16);
  return `rgb(${[0, 1, 2].map((n) => Math.round(ch(c0, n) + (ch(c1, n) - ch(c0, n)) * k)).join(',')})`;
};
const steppedStops: [number, string][] = [];
for (let k = 0; k < SURFACE_BANDS; k++) {
  const col = sampleCmap((k + 0.5) / SURFACE_BANDS);
  steppedStops.push([k / SURFACE_BANDS, col], [(k + 1) / SURFACE_BANDS, col]);
}

const textPlugin = (items: Txt[]) => ({
  id: 'pageText',
  afterDraw(chart: any) {
    const { ctx, scales } = chart;
    ctx.save();
    ctx.textAlign = 'center';
    ctx.textBaseline = 'middle';
    for (const it of items) {
      const px = scales.x.getPixelForValue(it.x);
      const py = scales.y.getPixelForValue(it.y);
      ctx.save();
      ctx.translate(px, py);
      if (it.r) ctx.rotate((it.r * Math.PI) / 180);
      ctx.font = it.f;
      ctx.fillStyle = it.c || '#222';
      ctx.fillText(it.t, 0, 0);
      ctx.restore();
    }
    ctx.restore();
  },
});

const poly = (data: any[], bg: any, order: number, tension = 0) => ({
  data, showLine: true, fill: 'shape', backgroundColor: bg, borderWidth: 0, pointRadius: 0, tension, order, capBezierPoints: false,
});
const seg = (data: any[], color: string, width: number, order: number) => ({
  data, showLine: true, fill: false, borderColor: color, borderWidth: width, pointRadius: 0, tension: 0, order, clip: false,
});

function build3D(canvas: HTMLCanvasElement, p: any) {
  const mix = (u: number, v: number, a: number[], b: number[], c: number[], d: number[], i: number) =>
    (1 - u) * (1 - v) * a[i] + u * (1 - v) * b[i] + u * v * c[i] + (1 - u) * v * d[i];
  const proj = (u: number, v: number, t: number) => ({
    x: mix(u, v, p.L, p.F, p.R, p.B, 0) + t * mix(u, v, p.hL, p.hF, p.hR, p.hB, 0),
    y: mix(u, v, p.L, p.F, p.R, p.B, 1) + t * mix(u, v, p.hL, p.hF, p.hR, p.hB, 1),
  });
  const U = (r: number) => (r - p.rx[0]) / (p.rx[1] - p.rx[0]);
  const V = (g: number) => (g - p.ry[0]) / (p.ry[1] - p.ry[0]);
  const T = (z: number) => z / p.zTop;

  const ds: any[] = [];
  let o = 9000;
  ds.push(poly([proj(0, 0, 0), proj(0, 1, 0), proj(0, 1, 1), proj(0, 0, 1)], '#fbfbfb', o--));
  ds.push(poly([proj(0, 1, 0), proj(1, 1, 0), proj(1, 1, 1), proj(0, 1, 1)], '#f5f5f5', o--));
  ds.push(poly([proj(0, 0, 0), proj(1, 0, 0), proj(1, 1, 0), proj(0, 1, 0)], '#f9f9f9', o--));
  const gridC = '#b9b9b9';
  for (const r of p.tx) ds.push(seg([proj(U(r), 0, 0), proj(U(r), 1, 0), proj(U(r), 1, 1)], gridC, 1.6, o--));
  for (const g of p.ty) ds.push(seg([proj(1, V(g), 0), proj(0, V(g), 0), proj(0, V(g), 1)], gridC, 1.6, o--));
  for (const z of p.tz) ds.push(seg([proj(0, 0, T(z)), proj(0, 1, T(z)), proj(1, 1, T(z))], gridC, 1.6, o--));
  ds.push(seg([proj(0, 0, 0), proj(1, 0, 0), proj(1, 1, 0), proj(1, 1, 1)], '#222', 1.6, o--));
  for (const r of p.tx) ds.push(seg([proj(U(r), 0, 0), proj(U(r), -0.012, 0)], '#222', 2, o--));
  for (const g of p.ty) ds.push(seg([proj(1, V(g), 0), proj(1.012, V(g), 0)], '#222', 2, o--));
  for (const z of p.tz) ds.push(seg([proj(1, 1, T(z)), proj(1.012, 1.0, T(z))], '#222', 2, o--));

  // a facet's colour varies linearly with the density of its three corners;
  // facets seen almost edge-on take the colour of their mean density
  const maxSlope = (1.5 * p.zTop) / 350;
  const facet = (c: any, t: { x: number; y: number; z: number }[]) => {
    const P = t.map((q) => ({ x: q.x - p.box[0], y: q.y - p.box[1], z: q.z }));
    const dx1 = P[1].x - P[0].x, dy1 = P[1].y - P[0].y, dz1 = P[1].z - P[0].z;
    const dx2 = P[2].x - P[0].x, dy2 = P[2].y - P[0].y, dz2 = P[2].z - P[0].z;
    const det = dx1 * dy2 - dx2 * dy1;
    let a = 0, b = 0;
    if (Math.abs(det) > 1e-6) { a = (dz1 * dy2 - dz2 * dy1) / det; b = (dx1 * dz2 - dx2 * dz1) / det; }
    const g2 = a * a + b * b;
    if (g2 < 1e-14 || g2 > maxSlope * maxSlope) return sampleCmap((P[0].z + P[1].z + P[2].z) / 3 / p.zMax);
    const x0 = P[0].x - (a * P[0].z) / g2, y0 = P[0].y - (b * P[0].z) / g2;
    const gr = c.chart.ctx.createLinearGradient(x0, y0, x0 + (a * p.zMax) / g2, y0 + (b * p.zMax) / g2);
    for (const [f, col] of steppedStops) gr.addColorStop(f, col);
    return gr;
  };

  // surface, back to front: a smooth strip between two RMSD slices, then its facets
  const pt = (i: number, j: number) => ({ ...proj(U(p.rmsd[i]), V(p.rg[j]), T(p.z[i][j])), z: p.z[i][j] });
  const nR = p.rg.length;
  for (let i = 0; i + 1 < p.rmsd.length; i++) {
    const a: any[] = [], b: any[] = [];
    for (let j = 0; j < nR; j++) { a.push(pt(i, j)); b.push(pt(i + 1, j)); }
    const mid = [pt(i, 5), pt(i + 1, 5), pt(i + 1, 6)];
    ds.push(poly([...a, ...b.reverse()], (c: any) => facet(c, mid), o--, 0.3));
    for (let j = nR - 2; j >= 0; j--) {
      const A = pt(i, j), B = pt(i, j + 1), C = pt(i + 1, j + 1), D = pt(i + 1, j);
      for (const tri of [[A, B, C], [A, C, D]]) {
        const bg = (c: any) => facet(c, tri);
        ds.push({ ...poly([...tri, tri[0]], bg, o--), borderColor: bg, borderWidth: 1 });
      }
    }
  }

  const rgFmt = p.dy;
  const lab: Txt[] = [];
  const tf = `18px ${FONT}`;
  for (const r of p.tx) { const q = proj(U(r), 0, 0); lab.push({ t: r.toFixed(1), x: q.x - 16, y: q.y + 45, f: tf }); }
  for (const g of p.ty) { const q = proj(1, V(g), 0); lab.push({ t: g.toFixed(rgFmt), x: q.x + 26, y: q.y + 36, f: tf }); }
  for (const z of p.tz) { const q = proj(1, 1, T(z)); lab.push({ t: z.toFixed(1), x: q.x + 41, y: q.y, f: tf }); }
  lab.push({ t: 'RMSD (Å)', x: p.rmsdLab[0], y: p.rmsdLab[1], f: `20px ${FONT}`, r: 18 });
  lab.push({ t: 'Rg (Å)', x: p.rgLab[0], y: p.rgLab[1], f: `20px ${FONT}`, r: -40 });
  lab.push({ t: 'Relative Density', x: p.zLab[0], y: p.zLab[1], f: `21px ${FONT}`, r: -86.5 });
  lab.push({ t: 'Relative Density', x: p.cbLab[0], y: p.cbLab[1], f: `21px ${FONT}`, r: -90 });

  return new Chart(canvas, {
    type: 'scatter',
    data: { datasets: ds },
    options: {
      animation: false, responsive: false, devicePixelRatio: 1, events: [],
      layout: { padding: 0 },
      plugins: { legend: { display: false }, tooltip: { enabled: false } },
      scales: {
        x: { type: 'linear', display: false, min: p.box[0], max: p.box[0] + p.box[2] },
        y: { type: 'linear', display: false, min: p.box[1], max: p.box[1] + p.box[3], reverse: true },
      },
    },
    plugins: [textPlugin(lab)],
  } as any);
}

function buildColorbar(canvas: HTMLCanvasElement, p: any) {
  const ticks = p.cbTicks as number[];
  const H = p.cb[3];
  return new Chart(canvas, {
    type: 'bar',
    data: {
      labels: ['Relative Density'],
      datasets: [{
        data: [[0, p.zMax]], barPercentage: 1, categoryPercentage: 1, borderWidth: 2, borderColor: '#77808a', borderSkipped: false,
        backgroundColor: (c: any) => {
          const g = c.chart.ctx.createLinearGradient(0, CB_M + H, 0, CB_M);
          for (const [f, col] of cmap) g.addColorStop(f, col);
          return g;
        },
      }],
    },
    options: {
      animation: false, responsive: false, devicePixelRatio: 1, events: [],
      layout: { autoPadding: false, padding: { left: 2, top: CB_M, bottom: CB_M, right: 0 } },
      plugins: { legend: { display: false }, tooltip: { enabled: false } },
      scales: {
        x: { display: false },
        y: {
          position: 'right', min: 0, max: p.zMax,
          afterBuildTicks: (s: any) => { s.ticks = ticks.map((v) => ({ value: v })); },
          afterFit: (s: any) => { s.width = 70; },
          grid: { drawOnChartArea: false, tickLength: 7, color: '#333', lineWidth: 1.5 }, border: { display: false },
          ticks: { font: { family: FONT, size: 23 }, color: '#222', padding: 5, callback: (v: any) => Number(v).toFixed(1) },
        },
      },
    },
  } as any);
}

function buildPCA(canvas: HTMLCanvasElement, p: any, box: number[]) {
  const ds: any[] = [];
  p.contours.forEach(([lvl, flat]: [number, number[]], i: number) => {
    const pts: any[] = [];
    for (let k = 0; k < flat.length; k += 2) pts.push({ x: flat[k], y: flat[k + 1] });
    pts.push(pts[0], pts[1]);
    ds.push(poly(pts, p.bands[lvl], 100 - i, 0.4));
  });
  const tick = (v: any) => (v < 0 ? '\u2212' + Math.abs(v) : String(v));
  const axis = (vals: number[], range: number[], extra: any) => ({
    type: 'linear', min: range[0], max: range[1],
    afterBuildTicks: (s: any) => { s.ticks = vals.map((v) => ({ value: v })); },
    grid: { drawOnChartArea: false, tickLength: 5, color: '#555', lineWidth: 1.5 },
    border: { display: false },
    ticks: {
      autoSkip: false, maxRotation: 0, color: '#333', padding: 4, callback: tick,
      font: (c: any) => ({ family: FONT, size: c.tick && c.tick.value === 36 ? 10 : 19 }),
    },
    ...extra,
  });
  const xOf = (page: number) => p.xr[0] + ((page - p.ax[0]) / (p.ax[1] - p.ax[0])) * (p.xr[1] - p.xr[0]);
  const yOf = (page: number) => p.yr[1] - ((page - PCA_TOP) / PCA_H) * (p.yr[1] - p.yr[0]);
  const lab: Txt[] = [
    { t: 'PCA', x: xOf(p.title), y: yOf(1987), f: `bold 28px ${FONT}`, c: '#111' },
    { t: 'PC1', x: xOf(p.pc1), y: yOf(2585), f: `italic 20px ${FONT}`, c: '#333' },
    { t: 'PC2', x: xOf(p.pc2), y: yOf(2275), f: `italic 20px ${FONT}`, c: '#333', r: -90 },
  ];
  const frame = {
    id: 'frame',
    afterDatasetsDraw(chart: any) {
      const { ctx, chartArea: a } = chart;
      ctx.save(); ctx.strokeStyle = '#3a3433'; ctx.lineWidth = 2.5;
      ctx.strokeRect(a.left, a.top, a.right - a.left, a.bottom - a.top); ctx.restore();
    },
  };
  return new Chart(canvas, {
    type: 'scatter',
    data: { datasets: ds },
    options: {
      animation: false, responsive: false, devicePixelRatio: 1, events: [],
      layout: { autoPadding: false, padding: { top: PCA_TOP - box[1], right: box[0] + box[2] - p.ax[1], left: 0, bottom: 0 } },
      plugins: { legend: { display: false }, tooltip: { enabled: false } },
      scales: {
        x: axis(p.tx, p.xr, { afterFit: (s: any) => { s.height = box[1] + box[3] - PCA_TOP - PCA_H; } }),
        y: axis(p.ty, p.yr, { afterFit: (s: any) => { s.width = p.ax[0] - box[0]; } }),
      },
    },
    plugins: [textPlugin(lab), frame],
  } as any);
}

function buildPcaBar(canvas: HTMLCanvasElement, p: any) {
  const lv = p.levels as number[];
  const frame = {
    id: 'cbframe',
    afterDatasetsDraw(chart: any) {
      const { ctx, chartArea: a } = chart;
      ctx.save(); ctx.strokeStyle = '#8a8a8a'; ctx.lineWidth = 2;
      ctx.strokeRect(a.left, a.top, a.right - a.left, a.bottom - a.top); ctx.restore();
    },
  };
  return new Chart(canvas, {
    type: 'bar',
    data: {
      labels: ['level'],
      datasets: p.bands.map((c: string, i: number) => ({ data: [[lv[i], lv[i + 1]]], backgroundColor: c, barPercentage: 1, categoryPercentage: 1 })),
    },
    options: {
      animation: false, responsive: false, devicePixelRatio: 1, events: [],
      layout: { autoPadding: false, padding: { left: 2, top: 10, bottom: 10, right: 0 } },
      plugins: { legend: { display: false }, tooltip: { enabled: false } },
      scales: {
        x: { display: false, stacked: true },
        y: {
          position: 'right', min: lv[0], max: lv[9],
          afterBuildTicks: (s: any) => { s.ticks = lv.map((v) => ({ value: v })); },
          afterFit: (s: any) => { s.width = 62; },
          grid: { drawOnChartArea: false, tickLength: 3, color: '#555' }, border: { display: false },
          ticks: { autoSkip: false, font: { family: FONT, size: 9 }, color: '#444', padding: 2, callback: (v: any) => Number(v).toFixed(8) },
        },
      },
    },
    plugins: [frame],
  } as any);
}

function ChartCanvas({ box, make, blur = 0.7 }: { box: number[]; make: (c: HTMLCanvasElement) => Chart; blur?: number }) {
  const ref = useRef<HTMLCanvasElement>(null);
  useEffect(() => {
    const ch = make(ref.current!);
    return () => ch.destroy();
  }, []);
  return (
    <canvas ref={ref} width={box[2]} height={box[3]}
      style={{ position: 'absolute', left: box[0], top: box[1], width: box[2], height: box[3], filter: `blur(${blur}px)` }} />
  );
}

export default function App() {
  return (
    <div style={{ position: 'absolute', left: 0, top: 0, width: 2590, height: 2720, background: '#fff', overflow: 'hidden' }}>
      {panels3D.map((p, i) => <ChartCanvas key={'s' + i} box={p.box} make={(c) => build3D(c, p)} />)}
      {panels3D.map((p, i) => {
        const box = [p.cb[0] - 2, p.cb[1] - CB_M, p.cb[2] + 72, p.cb[3] + 2 * CB_M];
        return <ChartCanvas key={'c' + i} box={box} make={(c) => buildColorbar(c, p)} />;
      })}
      {panelsPCA.map((p, i) => {
        const box = [p.ax[0] - 90, PCA_TOP - 40, p.ax[1] - p.ax[0] + 96, PCA_H + 100];
        return <ChartCanvas key={'p' + i} box={box} make={(c) => buildPCA(c, p, box)} />;
      })}
      {panelsPCA.map((p, i) => {
        const box = [p.cb[0] - 2, PCA_TOP - 10, p.cb[1] + 64, PCA_H + 20];
        return <ChartCanvas key={'b' + i} box={box} make={(c) => buildPcaBar(c, p)} />;
      })}
      {pageTexts.map((t, i) => (
        <div key={'t' + i} style={{ position: 'absolute', left: t.x, top: t.y, transform: 'translate(-50%,-50%)', font: `${t.s}px ${TITLE_FONT}`, lineHeight: 1, color: INK, whiteSpace: 'nowrap' }}>{t.t}</div>
      ))}
    </div>
  );
}
